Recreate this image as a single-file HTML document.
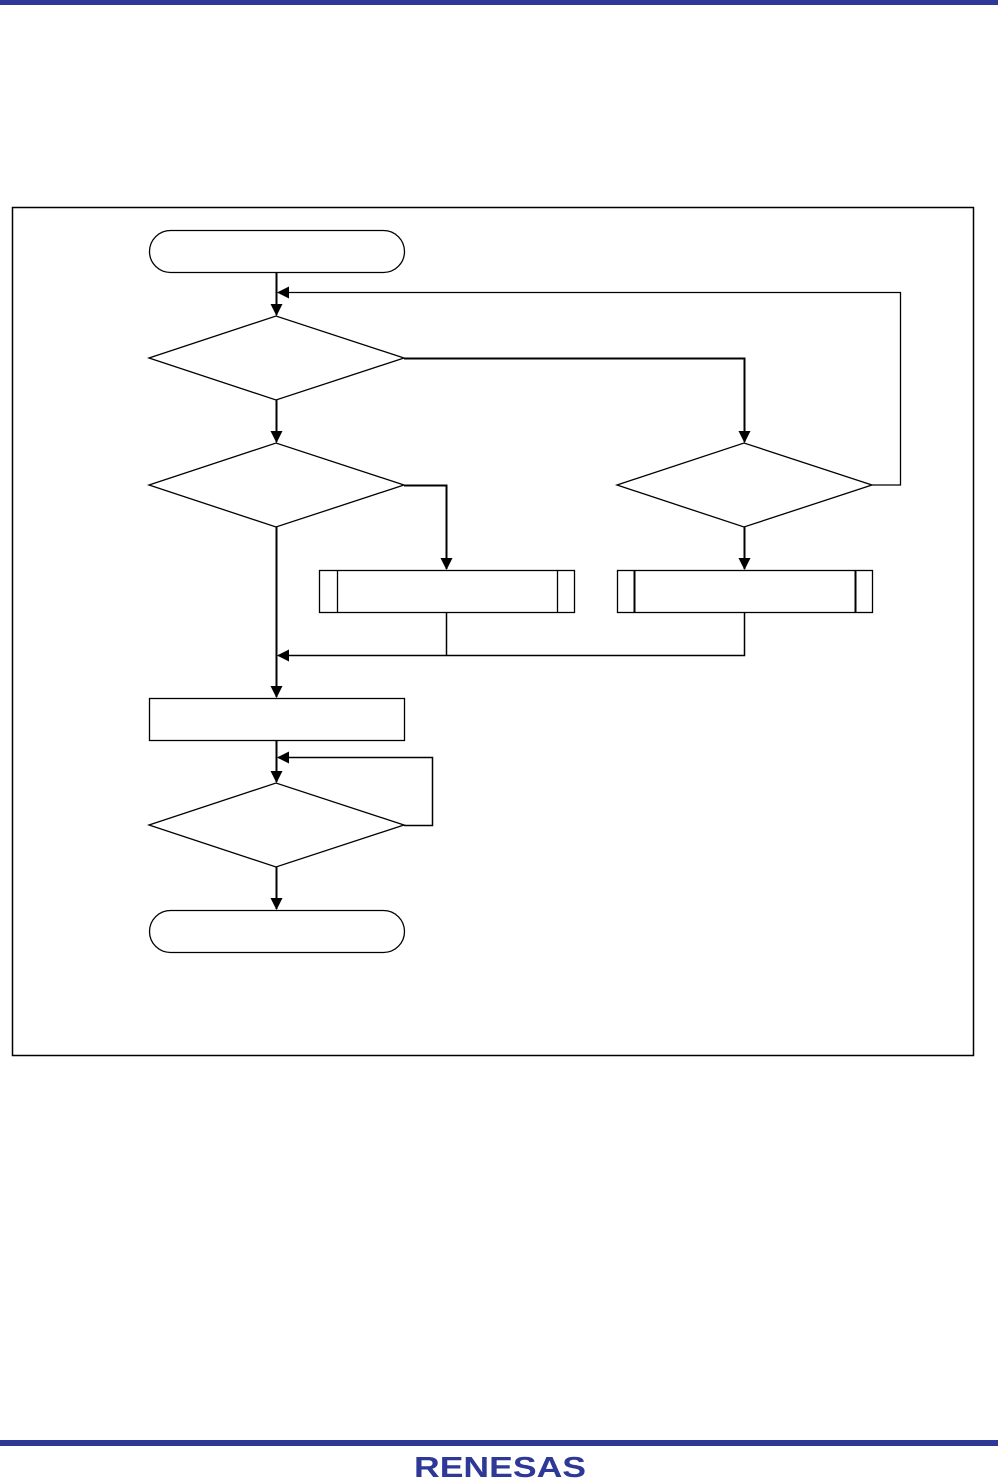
<!DOCTYPE html>
<html><head><meta charset="utf-8"><style>
html,body{margin:0;padding:0;background:#fff;}
body{width:998px;height:1480px;position:relative;overflow:hidden;}
</style></head><body>
<svg width="998" height="1480" viewBox="0 0 998 1480" style="position:absolute;left:0;top:0">
<defs>
<marker id="a" markerWidth="12" markerHeight="12" refX="11" refY="6" orient="auto" markerUnits="userSpaceOnUse">
<path d="M0,0 L12,6 L0,12 Z" fill="#000"/></marker>
</defs>
<rect x="0" y="0" width="998" height="5" fill="#2e3896"/>
<rect x="0" y="1440" width="998" height="6" fill="#2e3896"/>
<text x="500" y="1477" text-anchor="middle" font-family="Liberation Sans, sans-serif" font-weight="bold" font-size="29" fill="#2e3896" textLength="172" lengthAdjust="spacingAndGlyphs">RENESAS</text>
<g fill="none" stroke="#000" stroke-width="1.3">
<rect x="12.5" y="207.5" width="961" height="848" stroke-width="1.5"/>
<rect x="149.5" y="230.5" width="255" height="42" rx="21"/>
<polygon points="149,358 276,316 404,358 276,400" fill="#fff"/>
<polygon points="149,485 276,443 404,485 276,527" fill="#fff"/>
<polygon points="617,485 744,443 872,485 744,527" fill="#fff"/>
<rect x="319.5" y="570.5" width="255" height="42"/>
<line x1="337.5" y1="570" x2="337.5" y2="612"/><line x1="557.5" y1="570" x2="557.5" y2="612"/>
<rect x="617.5" y="570.5" width="255" height="42"/>
<line x1="634.5" y1="570" x2="634.5" y2="612" stroke-width="2"/><line x1="855.5" y1="570" x2="855.5" y2="612" stroke-width="2"/>
<rect x="149.5" y="698.5" width="255" height="42"/>
<polygon points="149,825 276,783 404,825 276,867" fill="#fff"/>
<rect x="149.5" y="910.5" width="255" height="42" rx="21"/>
</g>
<g fill="none" stroke="#000" stroke-width="2">
<line x1="276.5" y1="272" x2="276.5" y2="315" marker-end="url(#a)"/>
<polyline points="872,485 900.5,485 900.5,292.5 278,292.5" stroke-width="1.3" marker-end="url(#a)"/>
<polyline points="404,358.5 744.5,358.5 744.5,442" marker-end="url(#a)"/>
<line x1="276.5" y1="400" x2="276.5" y2="442" marker-end="url(#a)"/>
<polyline points="404,485.5 446.5,485.5 446.5,569" marker-end="url(#a)"/>
<line x1="744.5" y1="527" x2="744.5" y2="569" marker-end="url(#a)"/>
<line x1="276.5" y1="527" x2="276.5" y2="697" marker-end="url(#a)"/>
<polyline points="446.5,612 446.5,655.5" stroke-width="1.5"/>
<polyline points="744.5,612 744.5,655.5 278,655.5" stroke-width="1.5" marker-end="url(#a)"/>
<line x1="276.5" y1="740" x2="276.5" y2="782" marker-end="url(#a)"/>
<polyline points="404,825.5 432.5,825.5 432.5,757.5 278,757.5" stroke-width="1.5" marker-end="url(#a)"/>
<line x1="276.5" y1="867" x2="276.5" y2="909" marker-end="url(#a)"/>
</g>
</svg>
</body></html>
